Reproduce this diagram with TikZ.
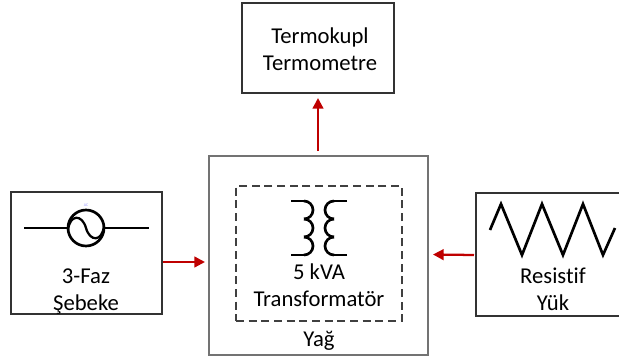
\documentclass[tikz,border=0pt]{standalone}
\usepackage{fontspec}
\setmainfont{Carlito}[Ligatures=NoCommon]
\usetikzlibrary{arrows.meta}

\tikzset{
        box/.style={draw=black!80, line width=0.8pt, inner sep=0pt, outer sep=0pt},
        oilbox/.style={draw=black!55, line width=1pt, inner sep=0pt, outer sep=0pt},
        label/.style={font=\fontsize{17}{20.25}\selectfont, align=center, inner sep=0pt},
        wire/.style={line width=2pt, black},
        flow/.style={line width=1.7pt, draw=red!75!black, -{Triangle[length=8pt, width=8pt]}},
}

\begin{document}
\begin{tikzpicture}[x=0.75pt, y=-0.75pt]

        \useasboundingbox (0, 0) rectangle (619, 361);

        \node[oilbox, minimum width=219*0.75pt, minimum height=199*0.75pt] (oil) at (318.5, 255.5) {};
        \node[box, minimum width=151*0.75pt, minimum height=122*0.75pt] (supply) at (86.5, 253) {};
        \node[box, minimum width=152*0.75pt, minimum height=90*0.75pt] (thermo) at (318, 48) {};
        \node[box, minimum width=152*0.75pt, minimum height=123*0.75pt] (load) at (552, 254.5) {};
        \node[draw=black!75, dash pattern=on 6pt off 3.5pt, line width=1.1pt, inner sep=0pt, minimum width=166*0.75pt, minimum height=135*0.75pt] (trafo) at (319, 253.5) {};

        \node[label] (thermotext) at (320, 49) {Termokupl\\Termometre};
        \node[label] (supplytext) at (86, 292) {3-Faz\\Şebeke};
        \node[label] (trafotext) at (319, 285.5) {5 kVA\\Transformatör};
        \node[label] (loadtext) at (553, 289.5) {Resistif\\Yük};
        \node[label] (oiltext) at (319, 341) {Yağ};

        % sources
        \node[draw, circle, line width=2pt, minimum size=36*0.75pt, inner sep=0pt] (ac) at (86, 228) {};
        \node[font=\fontsize{3}{3}\selectfont, text=blue!40, inner sep=0pt] (actext) at (86, 205) {AC};
        \coordinate (acleft) at (24, 228);
        \coordinate (acright) at (149, 228);
        \draw[wire] (acleft) -- (ac);
        \draw[wire] (ac) -- (acright);
        \draw[line width=1.7pt] (68, 230) .. controls (70, 214) and (82, 214) .. (86, 228) .. controls (90, 242) and (102, 242) .. (104, 226);

        % coils
        \draw[wire] (291, 201) -- (304, 201);
        \draw[wire] (291, 255) -- (304, 255);
        \draw[wire] (347, 201) -- (334, 201);
        \draw[wire] (347, 255) -- (334, 255);
        \foreach \x in {1, 2, 3}
        {
                \draw[wire] (304, 183+18*\x) arc (-90:90:9);
                \draw[wire] (334, 183+18*\x) arc (-90:-270:9);
        }

        \draw[wire, line join=miter] (490, 230) -- (501, 204) -- (522, 255) -- (542, 204) -- (563, 255) -- (583, 204) -- (603, 255) -- (615, 228);

        \draw[flow] ([shift={(1, 9)}]supply.east) -- ([shift={(-4, 6.5)}]oil.west);
        \draw[flow] ([shift={(-2, 0.5)}]load.west) -- ([shift={(5, 0)}]oil.east |- load.west);
        \draw[flow] ([shift={(-0.5, -5)}]oil.north) -- ([shift={(0, 5)}]thermo.south);

\end{tikzpicture}
\end{document}
